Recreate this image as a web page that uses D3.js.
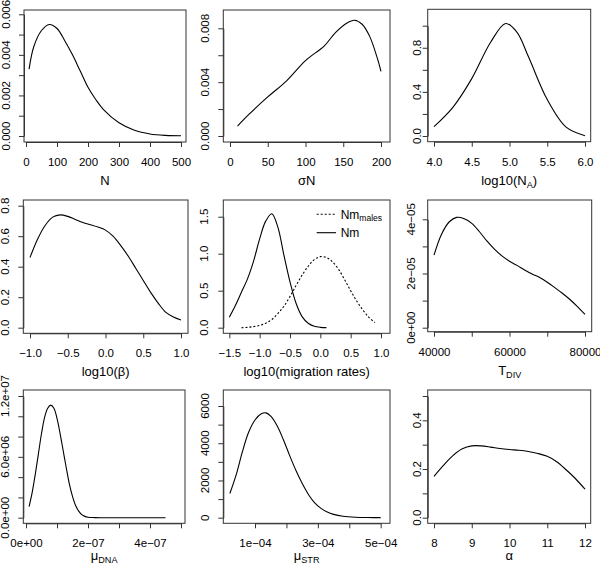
<!DOCTYPE html>
<html><head><meta charset="utf-8">
<script src="https://cdn.jsdelivr.net/npm/d3@7"></script>
<style>
body{margin:0;background:#fff}
text{font-family:"Liberation Sans",Arial,Helvetica,sans-serif;fill:#000}
</style>
</head><body>
<svg id="c" width="600" height="565"></svg>
<script>
// ---------- data ----------
const nX = [10, 25, 50, 75, 100, 125, 150, 175, 200, 225, 250, 300, 350, 400, 450, 500];
const nY = [0.0033, 0.0044, 0.0052, 0.0055, 0.0053, 0.0047, 0.0040, 0.0032, 0.0024, 0.0018, 0.0013, 0.00065, 0.00028, 0.0001, 0.00003, 0.00001];

const sigmaX = [10, 25, 50, 75, 100, 125, 140, 155, 165, 175, 185, 195, 200];
const sigmaY = [0.00074, 0.0016, 0.0029, 0.0041, 0.0056, 0.0067, 0.0077, 0.0084, 0.0086, 0.0083, 0.0074, 0.0058, 0.0048];

const naX = [4.0, 4.25, 4.5, 4.75, 4.95, 5.1, 5.25, 5.5, 5.75, 6.0];
const naY = [0.085, 0.26, 0.52, 0.85, 1.02, 0.94, 0.72, 0.33, 0.08, 0.003];

const betaX = [-1.0, -0.9, -0.8, -0.7, -0.6, -0.5, -0.4, -0.3, -0.2, -0.1, 0.0, 0.1, 0.2, 0.3, 0.4, 0.5, 0.6, 0.7, 0.8, 0.9, 1.0];
const betaY = [0.46, 0.58, 0.67, 0.725, 0.74, 0.73, 0.71, 0.69, 0.675, 0.66, 0.64, 0.60, 0.54, 0.47, 0.39, 0.31, 0.23, 0.16, 0.10, 0.07, 0.05];

const nmX = [-1.5, -1.4, -1.3, -1.2, -1.1, -1.0, -0.9, -0.8, -0.7, -0.6, -0.5, -0.4, -0.3, -0.2, -0.1, 0.0, 0.1];
const nmY = [0.14, 0.30, 0.48, 0.66, 0.90, 1.20, 1.44, 1.54, 1.36, 0.98, 0.62, 0.33, 0.15, 0.06, 0.02, 0.005, 0.001];

const nmMalesX = [-1.3, -1.2, -1.1, -1.0, -0.9, -0.8, -0.7, -0.6, -0.5, -0.4, -0.3, -0.2, -0.1, 0.0, 0.1, 0.2, 0.3, 0.4, 0.5, 0.6, 0.7, 0.8, 0.9];
const nmMalesY = [0.0, 0.005, 0.015, 0.03, 0.06, 0.11, 0.19, 0.29, 0.42, 0.57, 0.71, 0.83, 0.92, 0.96, 0.95, 0.89, 0.79, 0.65, 0.50, 0.36, 0.24, 0.14, 0.07];

const tdivX = [40000, 42000, 44000, 46000, 48000, 50000, 52000, 54000, 56000, 58000, 60000, 62000, 64000, 66000, 68000, 70000, 72000, 74000, 76000, 78000, 80000];
const tdivY = [2.68e-5, 3.45e-5, 3.9e-5, 4.07e-5, 4.02e-5, 3.85e-5, 3.55e-5, 3.2e-5, 2.9e-5, 2.65e-5, 2.45e-5, 2.3e-5, 2.13e-5, 1.98e-5, 1.85e-5, 1.68e-5, 1.48e-5, 1.27e-5, 1.04e-5, 0.78e-5, 0.49e-5];

const dnaX = [1e-8, 2e-8, 3e-8, 4e-8, 5e-8, 6e-8, 7e-8, 8e-8, 9e-8, 1.0e-7, 1.1e-7, 1.2e-7, 1.3e-7, 1.4e-7, 1.5e-7, 1.6e-7, 1.7e-7, 1.8e-7, 1.9e-7, 2.0e-7, 2.2e-7, 2.5e-7, 3.0e-7, 3.5e-7, 4.0e-7, 4.5e-7];
const dnaY = [1.1e6, 2.5e6, 4.3e6, 6.3e6, 8.3e6, 9.9e6, 1.08e7, 1.11e7, 1.08e7, 9.8e6, 8.3e6, 6.6e6, 4.9e6, 3.3e6, 2.1e6, 1.2e6, 0.65e6, 0.3e6, 0.13e6, 0.05e6, 0.01e6, 0, 0, 0, 0, 0];

const strX = [2e-5, 4e-5, 6e-5, 8e-5, 1.0e-4, 1.2e-4, 1.35e-4, 1.5e-4, 1.7e-4, 1.9e-4, 2.1e-4, 2.3e-4, 2.5e-4, 2.7e-4, 2.9e-4, 3.1e-4, 3.3e-4, 3.5e-4, 3.8e-4, 4.2e-4, 4.6e-4, 5.0e-4];
const strY = [1300, 2300, 3550, 4600, 5250, 5580, 5630, 5450, 4950, 4200, 3350, 2550, 1850, 1250, 800, 500, 300, 180, 80, 25, 8, 2];

const alphaX = [8.0, 8.25, 8.5, 8.75, 9.0, 9.25, 9.5, 9.75, 10.0, 10.25, 10.5, 10.75, 11.0, 11.25, 11.5, 11.75, 12.0];
const alphaY = [0.17, 0.215, 0.255, 0.283, 0.295, 0.295, 0.29, 0.284, 0.28, 0.277, 0.272, 0.264, 0.252, 0.23, 0.197, 0.16, 0.117];

// tick values and labels ("" = tick without label)
const xt1 = [0, 100, 200, 300, 400, 500], xl1 = ["0", "100", "200", "300", "400", "500"];
const yt1 = [0, 0.001, 0.002, 0.003, 0.004, 0.005, 0.006], yl1 = ["0.000", "", "0.002", "", "0.004", "", "0.006"];
const xt2 = [0, 50, 100, 150, 200], xl2 = ["0", "50", "100", "150", "200"];
const yt2 = [0, 0.002, 0.004, 0.006, 0.008], yl2 = ["0.000", "", "0.004", "", "0.008"];
const xt3 = [4.0, 4.5, 5.0, 5.5, 6.0], xl3 = ["4.0", "4.5", "5.0", "5.5", "6.0"];
const yt3 = [0, 0.2, 0.4, 0.6, 0.8, 1.0], yl3 = ["0.0", "", "0.4", "", "0.8", ""];
const xt4 = [-1, -0.5, 0, 0.5, 1], xl4 = ["\u22121.0", "\u22120.5", "0.0", "0.5", "1.0"];
const yt4 = [0, 0.2, 0.4, 0.6, 0.8], yl4 = ["0.0", "0.2", "0.4", "0.6", "0.8"];
const xt5 = [-1.5, -1, -0.5, 0, 0.5, 1], xl5 = ["\u22121.5", "\u22121.0", "\u22120.5", "0.0", "0.5", "1.0"];
const yt5 = [0, 0.5, 1.0, 1.5], yl5 = ["0.0", "0.5", "1.0", "1.5"];
const xt6 = [40000, 50000, 60000, 70000, 80000], xl6 = ["40000", "", "60000", "", "80000"];
const yt6 = [0, 1e-5, 2e-5, 3e-5, 4e-5], yl6 = ["0e+00", "", "2e\u221205", "", "4e\u221205"];
const xt7 = [0, 1e-7, 2e-7, 3e-7, 4e-7, 5e-7], xl7 = ["0e+00", "", "2e\u221207", "", "4e\u221207", ""];
const yt7 = [0, 2e6, 4e6, 6e6, 8e6, 1e7, 1.2e7], yl7 = ["0.0e+00", "", "", "6.0e+06", "", "", "1.2e+07"];
const xt8 = [1e-4, 2e-4, 3e-4, 4e-4, 5e-4], xl8 = ["1e\u221204", "", "3e\u221204", "", "5e\u221204"];
const yt8 = [0, 1000, 2000, 3000, 4000, 5000, 6000], yl8 = ["0", "", "2000", "", "4000", "", "6000"];
const xt9 = [8, 9, 10, 11, 12], xl9 = ["8", "9", "10", "11", "12"];
const yt9 = [0, 0.1, 0.2, 0.3, 0.4, 0.5], yl9 = ["0.0", "", "0.2", "", "0.4", ""];

const legendLabels = [["Nm", "males"], ["Nm", ""]];

// ---------- layout ----------
// box: [left, top, right, bottom]; xr/yr: pixel positions of first/last tick; ylx: y-label baseline x
const panels = [
  {box:[24,10,186,142], xt:xt1, xl:xl1, yt:yt1, yl:yl1, xr:[26,181], yr:[136,14.3], ylx:10,
   title:[["N",""]], series:[{x:nX,y:nY}]},
  {box:[223.3,10,390,142], xt:xt2, xl:xl2, yt:yt2, yl:yl2, xr:[230,381], yr:[136,28.3], ylx:209,
   title:[["\u03c3N",""]], series:[{x:sigmaX,y:sigmaY}]},
  {box:[427.7,9.3,590.7,141.7], xt:xt3, xl:xl3, yt:yt3, yl:yl3, xr:[434,585], yr:[136,25.7], ylx:420.5,
   title:[["log10(N",""],["","A"],[")",""]], series:[{x:naX,y:naY}]},
  {box:[23.3,200,188,333.3], xt:xt4, xl:xl4, yt:yt4, yl:yl4, xr:[30,181], yr:[327.7,205.7], ylx:8.5,
   title:[["log10(\u03b2)",""]], series:[{x:betaX,y:betaY}]},
  {box:[223.3,200,390,333.3], xt:xt5, xl:xl5, yt:yt5, yl:yl5, xr:[229.3,381], yr:[327.7,216.7], ylx:207.5,
   title:[["log10(migration rates)",""]], series:[{x:nmX,y:nmY},{x:nmMalesX,y:nmMalesY,dash:"2,2"}], legend:true},
  {box:[427.7,200,591.7,331.7], xt:xt6, xl:xl6, yt:yt6, yl:yl6, xr:[434,585], yr:[327.7,219.3], ylx:415,
   title:[["T",""],["","DIV"]], series:[{x:tdivX,y:tdivY}]},
  {box:[23.3,390,185,523.3], xt:xt7, xl:xl7, yt:yt7, yl:yl7, xr:[26,181], yr:[517.7,396], ylx:8.5,
   title:[["\u03bc",""],["","DNA"]], series:[{x:dnaX,y:dnaY}], row3:true},
  {box:[223.3,390,390,523.3], xt:xt8, xl:xl8, yt:yt8, yl:yl8, xr:[255,380.7], yr:[517.7,406], ylx:209,
   title:[["\u03bc",""],["","STR"]], series:[{x:strX,y:strY}], row3:true},
  {box:[427.7,390,590.7,523.3], xt:xt9, xl:xl9, yt:yt9, yl:yl9, xr:[434,585], yr:[517.7,396], ylx:421,
   title:[["\u03b1",""]], series:[{x:alphaX,y:alphaY}], row3:true}
];

const svg = d3.select("#c");
const TICK = 5, FS = 11.5, TFS = 13;

panels.forEach(p => {
  const [L,T,R,B] = p.box;
  const x = d3.scaleLinear().domain([p.xt[0], p.xt[p.xt.length-1]]).range(p.xr);
  const y = d3.scaleLinear().domain([p.yt[0], p.yt[p.yt.length-1]]).range(p.yr);
  const g = svg.append("g");

  // box
  g.append("rect").attr("x",L).attr("y",T).attr("width",R-L).attr("height",B-T)
    .attr("fill","none").attr("stroke","#333").attr("stroke-width",1);

  // x axis
  const xa = g.append("g").attr("transform",`translate(0,${B})`)
    .call(d3.axisBottom(x).tickValues(p.xt).tickSize(TICK).tickSizeOuter(0).tickFormat((d,i)=>p.xl[i]));
  xa.select(".domain").attr("stroke","#333");
  xa.selectAll(".tick line").attr("stroke","#333");
  xa.selectAll(".tick text").attr("font-size",FS).attr("dy",null)
    .attr("y",24).attr("font-family",'"Liberation Sans",Arial,sans-serif').attr("fill","#000");

  // y axis
  const ya = g.append("g").attr("transform",`translate(${L},0)`)
    .call(d3.axisLeft(y).tickValues(p.yt).tickSize(TICK).tickSizeOuter(0).tickFormat(""));
  ya.select(".domain").attr("stroke","#333");
  ya.selectAll(".tick line").attr("stroke","#333");
  p.yt.forEach((t,i) => {
    if (!p.yl[i]) return;
    g.append("text").attr("transform",`translate(${p.ylx},${y(t)}) rotate(-90)`)
      .attr("text-anchor","middle").attr("font-size",FS).text(p.yl[i]);
  });

  // title (with subscripts)
  const ty = p.row3 ? B + 37 : B + 43;
  const tt = g.append("text").attr("x",(L+R)/2).attr("y",ty).attr("text-anchor","middle").attr("font-size",TFS);
  let lowered = false;
  p.title.forEach(([main,sub]) => {
    if (main) { tt.append("tspan").attr("dy", lowered ? -3 : 0).text(main); lowered = false; }
    if (sub) { tt.append("tspan").attr("font-size",TFS*0.7).attr("dy",3).text(sub); lowered = true; }
  });

  // curves
  const line = d3.line().curve(d3.curveCatmullRom.alpha(0.5));
  p.series.forEach(s => {
    const pts = s.x.map((v,i)=>[x(v), y(s.y[i])]);
    g.append("path").attr("d",line(pts)).attr("fill","none").attr("stroke","#000")
      .attr("stroke-width",1.1).attr("stroke-dasharray",s.dash||null);
  });

  // legend
  if (p.legend) {
    const rows = [{dash:"2,2", lab:legendLabels[0], yy:214.3},{dash:null, lab:legendLabels[1], yy:232.7}];
    rows.forEach(r => {
      g.append("line").attr("x1",316.7).attr("x2",336).attr("y1",r.yy).attr("y2",r.yy)
        .attr("stroke","#000").attr("stroke-width",1.1).attr("stroke-dasharray",r.dash);
      const t = g.append("text").attr("x",340.7).attr("y",r.yy+4.5).attr("font-size",12);
      t.append("tspan").text(r.lab[0]);
      if (r.lab[1]) t.append("tspan").attr("font-size",8.5).attr("dy",2.5).text(r.lab[1]);
    });
  }
});
</script>
</body></html>
